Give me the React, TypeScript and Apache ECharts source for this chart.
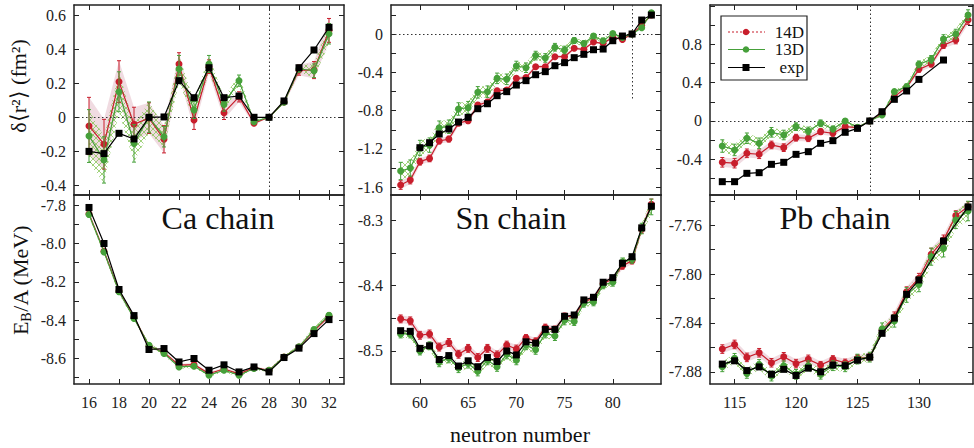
import React, { useEffect, useRef } from 'react';
import * as echarts from 'echarts';

// ---------------- Ca chain ----------------
const caN = [16, 17, 18, 19, 20, 21, 22, 23, 24, 25, 26, 27, 28, 29, 30, 31, 32];
const caRadExp = [-0.2, -0.213, -0.094, -0.127, 0.0, 0.002, 0.215, 0.115, 0.291, 0.115, 0.125, 0.0, 0.0, 0.096, 0.291, 0.395, 0.528];
const caRad14 = [-0.051, -0.158, 0.209, -0.041, -0.005, -0.129, 0.313, -0.016, 0.297, 0.027, 0.12, -0.035, 0.0, 0.09, 0.277, 0.277, 0.51];
const caRad14Err = [0.168, 0.146, 0.123, 0.1, 0.09, 0.08, 0.066, 0.055, 0.04, 0.04, 0.03, 0.012, 0.0, 0.01, 0.03, 0.05, 0.07];
const caRad13 = [-0.11, -0.25, 0.15, -0.153, 0.0, -0.114, 0.283, 0.043, 0.313, 0.076, 0.215, -0.026, 0.0, 0.088, 0.285, 0.273, 0.49];
const caRad13Err = [0.155, 0.136, 0.117, 0.11, 0.09, 0.06, 0.08, 0.05, 0.05, 0.04, 0.033, 0.012, 0.0, 0.01, 0.02, 0.04, 0.06];
const caBeExp = [-7.812, -8.0, -8.24, -8.376, -8.553, -8.548, -8.618, -8.6, -8.661, -8.633, -8.67, -8.644, -8.67, -8.595, -8.546, -8.47, -8.397];
const caBe14 = [-7.845, -8.04, -8.248, -8.385, -8.535, -8.568, -8.635, -8.632, -8.678, -8.655, -8.68, -8.648, -8.662, -8.592, -8.54, -8.455, -8.38];
const caBe14Err = [0.01, 0.01, 0.01, 0.01, 0.008, 0.008, 0.008, 0.008, 0.008, 0.008, 0.008, 0.008, 0.006, 0.006, 0.008, 0.01, 0.01];
const caBe13 = [-7.849, -8.044, -8.252, -8.391, -8.531, -8.574, -8.644, -8.64, -8.687, -8.661, -8.687, -8.652, -8.662, -8.592, -8.539, -8.449, -8.374];
const caBe13Err = [0.012, 0.012, 0.012, 0.01, 0.01, 0.01, 0.01, 0.01, 0.01, 0.01, 0.01, 0.008, 0.008, 0.008, 0.01, 0.012, 0.012];

// ---------------- Sn chain ----------------
const snN = [58, 59, 60, 61, 62, 63, 64, 65, 66, 67, 68, 69, 70, 71, 72, 73, 74, 75, 76, 77, 78, 79, 80, 81, 82, 83, 84];
const snRadExpN = [60, 61, 62, 63, 64, 65, 66, 67, 68, 69, 70, 71, 72, 73, 74, 75, 76, 77, 78, 79, 80, 81, 82, 83, 84];
const snRadExp = [-1.187, -1.135, -1.044, -0.992, -0.919, -0.87, -0.78, -0.728, -0.644, -0.602, -0.533, -0.487, -0.425, -0.393, -0.331, -0.299, -0.247, -0.212, -0.164, -0.157, -0.07, -0.021, 0.0, 0.146, 0.198];
const snRad14 = [-1.577, -1.525, -1.333, -1.299, -1.117, -1.097, -0.93, -0.905, -0.742, -0.71, -0.592, -0.585, -0.463, -0.455, -0.341, -0.341, -0.237, -0.237, -0.149, -0.16, -0.084, -0.097, -0.035, -0.056, 0.0, 0.09, 0.2];
const snRad14Err = [0.045, 0.04, 0.035, 0.035, 0.03, 0.03, 0.03, 0.03, 0.028, 0.028, 0.025, 0.025, 0.022, 0.022, 0.02, 0.02, 0.018, 0.018, 0.015, 0.015, 0.012, 0.012, 0.01, 0.008, 0.0, 0.01, 0.015];
const snRad13 = [-1.43, -1.4, -1.19, -1.16, -0.978, -0.968, -0.783, -0.769, -0.609, -0.602, -0.463, -0.473, -0.334, -0.352, -0.225, -0.25, -0.138, -0.167, -0.068, -0.1, -0.021, -0.07, 0.004, -0.035, 0.0, 0.066, 0.222];
const snRad13Err = [0.09, 0.085, 0.08, 0.075, 0.07, 0.07, 0.065, 0.065, 0.06, 0.06, 0.055, 0.055, 0.05, 0.05, 0.045, 0.045, 0.04, 0.04, 0.03, 0.03, 0.025, 0.025, 0.015, 0.01, 0.0, 0.012, 0.02];
const snBeExp = [-8.469, -8.47, -8.496, -8.492, -8.513, -8.507, -8.523, -8.515, -8.524, -8.51, -8.516, -8.5, -8.506, -8.486, -8.488, -8.467, -8.467, -8.447, -8.445, -8.422, -8.418, -8.395, -8.388, -8.366, -8.356, -8.312, -8.279];
const snBe14 = [-8.451, -8.454, -8.476, -8.474, -8.494, -8.487, -8.505, -8.496, -8.51, -8.496, -8.506, -8.491, -8.497, -8.48, -8.485, -8.464, -8.467, -8.447, -8.447, -8.424, -8.42, -8.397, -8.39, -8.37, -8.362, -8.314, -8.276];
const snBe14Err = [0.006, 0.006, 0.006, 0.006, 0.006, 0.006, 0.006, 0.006, 0.006, 0.006, 0.006, 0.006, 0.006, 0.005, 0.005, 0.005, 0.005, 0.005, 0.005, 0.005, 0.005, 0.005, 0.005, 0.005, 0.005, 0.006, 0.008];
const snBe13 = [-8.474, -8.474, -8.5, -8.492, -8.517, -8.511, -8.526, -8.519, -8.531, -8.514, -8.524, -8.505, -8.514, -8.491, -8.498, -8.473, -8.477, -8.453, -8.455, -8.427, -8.425, -8.399, -8.395, -8.364, -8.36, -8.313, -8.28];
const snBe13Err = [0.006, 0.006, 0.006, 0.006, 0.007, 0.007, 0.007, 0.007, 0.007, 0.007, 0.007, 0.007, 0.007, 0.007, 0.007, 0.007, 0.007, 0.007, 0.006, 0.006, 0.006, 0.006, 0.006, 0.006, 0.006, 0.008, 0.012];

// ---------------- Pb chain ----------------
const pbN = [114, 115, 116, 117, 118, 119, 120, 121, 122, 123, 124, 125, 126, 127, 128, 129, 130, 131, 132, 133, 134];
const pbRadExpN = [114, 115, 116, 117, 118, 119, 120, 121, 122, 123, 124, 125, 126, 127, 128, 129, 130, 132];
const pbRadExp = [-0.633, -0.633, -0.546, -0.539, -0.452, -0.431, -0.348, -0.32, -0.233, -0.205, -0.118, -0.077, 0.0, 0.097, 0.226, 0.313, 0.434, 0.636];
const pbRad14 = [-0.431, -0.44, -0.337, -0.347, -0.25, -0.278, -0.174, -0.18, -0.111, -0.128, -0.059, -0.07, 0.0, 0.08, 0.254, 0.351, 0.539, 0.594, 0.792, 0.845, 1.053];
const pbRad14Err = [0.05, 0.05, 0.045, 0.045, 0.04, 0.04, 0.035, 0.035, 0.03, 0.03, 0.02, 0.015, 0.0, 0.01, 0.02, 0.025, 0.03, 0.03, 0.035, 0.04, 0.045];
const pbRad13 = [-0.261, -0.302, -0.18, -0.233, -0.118, -0.146, -0.059, -0.104, -0.024, -0.083, 0.0, -0.065, 0.0, 0.063, 0.306, 0.358, 0.591, 0.643, 0.855, 0.907, 1.105];
const pbRad13Err = [0.065, 0.06, 0.055, 0.055, 0.05, 0.05, 0.04, 0.04, 0.035, 0.03, 0.025, 0.02, 0.0, 0.015, 0.025, 0.03, 0.035, 0.04, 0.045, 0.05, 0.055];
const pbBeExpN = [114, 115, 116, 117, 118, 119, 120, 121, 122, 123, 124, 125, 126, 127, 128, 129, 130, 132, 134];
const pbBeExp = [-7.8737, -7.871, -7.879, -7.876, -7.882, -7.878, -7.883, -7.877, -7.88, -7.8745, -7.875, -7.8705, -7.868, -7.8485, -7.836, -7.8166, -7.8048, -7.7729, -7.745];
const pbBe14 = [-7.8614, -7.8576, -7.8682, -7.8644, -7.8726, -7.8677, -7.8733, -7.8698, -7.8745, -7.8698, -7.8726, -7.869, -7.868, -7.8458, -7.835, -7.8144, -7.8034, -7.7838, -7.772, -7.7521, -7.7448];
const pbBe14Err = [0.0035, 0.0035, 0.0035, 0.0035, 0.0035, 0.0035, 0.0035, 0.0035, 0.003, 0.003, 0.003, 0.003, 0.003, 0.003, 0.004, 0.004, 0.004, 0.005, 0.004, 0.004, 0.004];
const pbBe13 = [-7.8759, -7.869, -7.8813, -7.874, -7.8835, -7.8751, -7.8821, -7.8751, -7.882, -7.875, -7.8759, -7.8696, -7.868, -7.845, -7.8384, -7.8171, -7.8084, -7.7857, -7.7789, -7.7557, -7.7483];
const pbBe13Err = [0.004, 0.004, 0.004, 0.004, 0.004, 0.004, 0.004, 0.004, 0.004, 0.004, 0.004, 0.004, 0.004, 0.005, 0.005, 0.006, 0.006, 0.007, 0.007, 0.007, 0.008];

// ---------------- ticks / labels ----------------
const caXTicks = [16, 18, 20, 22, 24, 26, 28, 30, 32];
const snXTicks = [60, 65, 70, 75, 80];
const pbXTicks = [115, 120, 125, 130];
const caRadYLabels = [-0.4, -0.2, 0, 0.2, 0.4, 0.6];
const caRadYTicks = [-0.4, -0.2, 0, 0.2, 0.4, 0.6];
const caBeYLabels = [-8.6, -8.4, -8.2, -8.0, -7.8];
const caBeYTicks = [-8.7, -8.6, -8.5, -8.4, -8.3, -8.2, -8.1, -8.0, -7.9, -7.8];
const snRadYLabels = [-1.6, -1.2, -0.8, -0.4, 0];
const snRadYTicks = [-1.6, -1.4, -1.2, -1.0, -0.8, -0.6, -0.4, -0.2, 0, 0.2];
const snBeYLabels = [-8.5, -8.4, -8.3];
const snBeYTicks = [-8.5, -8.45, -8.4, -8.35, -8.3];
const pbRadYLabels = [-0.4, 0, 0.4, 0.8];
const pbRadYTicks = [-0.6, -0.4, -0.2, 0, 0.2, 0.4, 0.6, 0.8, 1.0, 1.2];
const pbBeYLabels = [-7.88, -7.84, -7.8, -7.76];
const pbBeYTicks = [-7.88, -7.86, -7.84, -7.82, -7.8, -7.78, -7.76, -7.74];

const chainNames = ['Ca chain', 'Sn chain', 'Pb chain'];
const legendNames = ['14D', '13D', 'exp'];

const RED = '#c81e2c';
const GREEN = '#46a03a';
const AXIS = '#222';
const FONT = 'Liberation Serif';

const fmtRad = (v: number) => (Math.abs(v) < 1e-9 ? '0' : String(Math.round(v * 10) / 10));
const fmt1 = (v: number) => v.toFixed(1);
const fmt2 = (v: number) => v.toFixed(2);
const fmtInt = (v: number) => String(Math.round(v));

export default function App() {
  const ref = useRef<HTMLDivElement>(null);

  useEffect(() => {
    if (!ref.current) return;
    const chart = echarts.init(ref.current, null, { renderer: 'svg' });

    // hatch pattern for the 13D band
    const cv = document.createElement('canvas');
    cv.width = 6;
    cv.height = 6;
    const ctx = cv.getContext('2d');
    if (ctx) {
      ctx.strokeStyle = 'rgba(130,195,80,0.75)';
      ctx.lineWidth = 1;
      ctx.beginPath();
      ctx.moveTo(0, 0); ctx.lineTo(6, 6);
      ctx.moveTo(6, 0); ctx.lineTo(0, 6);
      ctx.stroke();
    }
    const greenFill: any = { image: cv, repeat: 'repeat' };
    const redFill = 'rgba(205,135,155,0.3)';

    const panels = [
      { grid: { left: 74, top: 5, width: 270, height: 190 }, xMin: 15, xMax: 33, xTicks: caXTicks, bottom: false,
        yMin: -0.456, yMax: 0.659, yTicks: caRadYTicks, yLabels: caRadYLabels, fmt: fmtRad,
        N: caN, d14: caRad14, e14: caRad14Err, d13: caRad13, e13: caRad13Err, expN: caN, exp: caRadExp,
        mark: [{ yAxis: 0 }, { xAxis: 28 }] },
      { grid: { left: 74, top: 195, width: 270, height: 189 }, xMin: 15, xMax: 33, xTicks: caXTicks, bottom: true,
        yMin: -8.733, yMax: -7.747, yTicks: caBeYTicks, yLabels: caBeYLabels, fmt: fmt1,
        N: caN, d14: caBe14, e14: caBe14Err, d13: caBe13, e13: caBe13Err, expN: caN, exp: caBeExp, mark: null },
      { grid: { left: 391, top: 5, width: 270, height: 190 }, xMin: 57, xMax: 85, xTicks: snXTicks, bottom: false,
        yMin: -1.681, yMax: 0.303, yTicks: snRadYTicks, yLabels: snRadYLabels, fmt: fmtRad,
        N: snN, d14: snRad14, e14: snRad14Err, d13: snRad13, e13: snRad13Err, expN: snRadExpN, exp: snRadExp,
        mark: [{ yAxis: 0 }, [{ coord: [82, 0.303] }, { coord: [82, -0.69] }]] },
      { grid: { left: 391, top: 195, width: 270, height: 189 }, xMin: 57, xMax: 85, xTicks: snXTicks, bottom: true,
        yMin: -8.5504, yMax: -8.2618, yTicks: snBeYTicks, yLabels: snBeYLabels, fmt: fmt1,
        N: snN, d14: snBe14, e14: snBe14Err, d13: snBe13, e13: snBe13Err, expN: snN, exp: snBeExp, mark: null },
      { grid: { left: 710, top: 5, width: 263, height: 190 }, xMin: 113, xMax: 134.4, xTicks: pbXTicks, bottom: false,
        yMin: -0.772, yMax: 1.21, yTicks: pbRadYTicks, yLabels: pbRadYLabels, fmt: fmtRad,
        N: pbN, d14: pbRad14, e14: pbRad14Err, d13: pbRad13, e13: pbRad13Err, expN: pbRadExpN, exp: pbRadExp,
        mark: [{ yAxis: 0 }, { xAxis: 126 }] },
      { grid: { left: 710, top: 195, width: 263, height: 189 }, xMin: 113, xMax: 134.4, xTicks: pbXTicks, bottom: true,
        yMin: -7.89, yMax: -7.7352, yTicks: pbBeYTicks, yLabels: pbBeYLabels, fmt: fmt2,
        N: pbN, d14: pbBe14, e14: pbBe14Err, d13: pbBe13, e13: pbBe13Err, expN: pbBeExpN, exp: pbBeExp, mark: null },
    ];

    const lineStyle = { color: AXIS, width: 1.5 };
    const labelBase = { fontFamily: FONT, fontSize: 16, color: '#222' };

    const grid: any[] = [];
    const xAxis: any[] = [];
    const yAxis: any[] = [];
    const series: any[] = [];

    const bandSeries = (g: number, N: number[], d: number[], e: number[], fill: any) => ({
      type: 'custom', xAxisIndex: 2 * g, yAxisIndex: 2 * g, z: 1, silent: true,
      data: N.map((x, i) => [x, d[i]]),
      renderItem: (params: any, api: any) => {
        if (params.dataIndex !== 0) return null;
        const upper = N.map((x, i) => api.coord([x, d[i] + e[i]]));
        const lower = N.map((x, i) => api.coord([x, d[i] - e[i]])).reverse();
        return { type: 'polygon', shape: { points: upper.concat(lower) }, style: { fill, stroke: null } };
      },
    });

    const errSeries = (g: number, N: number[], d: number[], e: number[], color: string, z: number) => ({
      type: 'custom', xAxisIndex: 2 * g, yAxisIndex: 2 * g, z, silent: true,
      data: N.map((x, i) => [x, d[i], e[i]]),
      renderItem: (params: any, api: any) => {
        const x = api.value(0), y = api.value(1), er = api.value(2);
        if (!er) return null;
        const hi = api.coord([x, y + er]);
        const lo = api.coord([x, y - er]);
        const w = 2;
        const st = { stroke: color, lineWidth: 1 };
        return {
          type: 'group',
          children: [
            { type: 'line', shape: { x1: hi[0], y1: hi[1], x2: lo[0], y2: lo[1] }, style: st },
            { type: 'line', shape: { x1: hi[0] - w, y1: hi[1], x2: hi[0] + w, y2: hi[1] }, style: st },
            { type: 'line', shape: { x1: lo[0] - w, y1: lo[1], x2: lo[0] + w, y2: lo[1] }, style: st },
          ],
        };
      },
    });

    panels.forEach((p, g) => {
      grid.push({ ...p.grid, containLabel: false });
      const xFmt = (v: number) => fmtInt(v);
      xAxis.push({
        type: 'value', gridIndex: g, min: p.xMin, max: p.xMax, position: 'bottom',
        axisLine: { show: true, onZero: false, lineStyle },
        axisTick: { show: true, inside: true, length: 5, customValues: p.xTicks, lineStyle: { color: AXIS, width: 1 } },
        axisLabel: { show: p.bottom, customValues: p.xTicks, margin: 10, formatter: xFmt, ...labelBase },
        splitLine: { show: false },
      });
      xAxis.push({
        type: 'value', gridIndex: g, min: p.xMin, max: p.xMax, position: 'top',
        axisLine: { show: true, onZero: false, lineStyle },
        axisTick: { show: true, inside: true, length: 5, customValues: p.xTicks, lineStyle: { color: AXIS, width: 1 } },
        axisLabel: { show: false },
        splitLine: { show: false },
      });
      yAxis.push({
        type: 'value', gridIndex: g, min: p.yMin, max: p.yMax, position: 'left',
        axisLine: { show: true, onZero: false, lineStyle },
        axisTick: { show: true, inside: true, length: 5, customValues: p.yTicks, lineStyle: { color: AXIS, width: 1 } },
        axisLabel: { show: true, customValues: p.yLabels, margin: 8, formatter: p.fmt, ...labelBase },
        splitLine: { show: false },
      });
      yAxis.push({
        type: 'value', gridIndex: g, min: p.yMin, max: p.yMax, position: 'right',
        axisLine: { show: true, onZero: false, lineStyle },
        axisTick: { show: true, inside: true, length: 5, customValues: p.yTicks, lineStyle: { color: AXIS, width: 1 } },
        axisLabel: { show: false },
        splitLine: { show: false },
      });

      series.push(bandSeries(g, p.N, p.d14, p.e14, redFill));
      series.push(bandSeries(g, p.N, p.d13, p.e13, greenFill));
      series.push(errSeries(g, p.N, p.d14, p.e14, RED, 2));
      series.push({
        type: 'line', name: legendNames[0], xAxisIndex: 2 * g, yAxisIndex: 2 * g, z: 3,
        data: p.N.map((x, i) => [x, p.d14[i]]),
        symbol: 'circle', symbolSize: 7, showSymbol: true,
        lineStyle: { color: RED, width: 1.2 }, itemStyle: { color: RED },
      });
      series.push(errSeries(g, p.N, p.d13, p.e13, GREEN, 4));
      series.push({
        type: 'line', name: legendNames[1], xAxisIndex: 2 * g, yAxisIndex: 2 * g, z: 5,
        data: p.N.map((x, i) => [x, p.d13[i]]),
        symbol: 'circle', symbolSize: 7, showSymbol: true,
        lineStyle: { color: GREEN, width: 1.2 }, itemStyle: { color: GREEN },
      });
      const expSeries: any = {
        type: 'line', name: legendNames[2], xAxisIndex: 2 * g, yAxisIndex: 2 * g, z: 6,
        data: p.expN.map((x, i) => [x, p.exp[i]]),
        symbol: 'rect', symbolSize: 7, showSymbol: true,
        lineStyle: { color: '#000', width: 1.2 }, itemStyle: { color: '#000' },
      };
      if (p.mark) {
        expSeries.markLine = {
          silent: true, symbol: ['none', 'none'], label: { show: false },
          lineStyle: { type: [1.5, 2.5], color: '#333', width: 1 },
          data: p.mark,
        };
      }
      series.push(expSeries);
    });

    const graphic: any[] = [
      // y titles
      { type: 'text', x: 18, y: 86, rotation: Math.PI / 2, z: 50,
        style: { text: 'δ⟨r²⟩ (fm²)', fontFamily: FONT, fontSize: 22, fill: '#111', align: 'center', verticalAlign: 'middle' } },
      { type: 'text', x: 20, y: 280, rotation: Math.PI / 2, z: 50,
        style: {
          text: '{a|E}{b|B}{a|/A (MeV)}', fill: '#111', align: 'center', verticalAlign: 'middle',
          rich: {
            a: { fontFamily: FONT, fontSize: 22, lineHeight: 26, verticalAlign: 'middle' },
            b: { fontFamily: FONT, fontSize: 14, lineHeight: 26, verticalAlign: 'bottom' },
          },
        } },
      { type: 'text', x: 520, y: 434, z: 50,
        style: { text: 'neutron number', fontFamily: FONT, fontSize: 22, fill: '#111', align: 'center', verticalAlign: 'middle' } },
      { type: 'text', x: 218, y: 218, z: 50,
        style: { text: chainNames[0], fontFamily: FONT, fontSize: 32, fill: '#111', align: 'center', verticalAlign: 'middle' } },
      { type: 'text', x: 511, y: 218, z: 50,
        style: { text: chainNames[1], fontFamily: FONT, fontSize: 32, fill: '#111', align: 'center', verticalAlign: 'middle' } },
      { type: 'text', x: 835, y: 218, z: 50,
        style: { text: chainNames[2], fontFamily: FONT, fontSize: 32, fill: '#111', align: 'center', verticalAlign: 'middle' } },
      // legend
      { type: 'rect', z: 40, shape: { x: 721, y: 16, width: 86, height: 64 }, style: { fill: '#fff', stroke: '#222', lineWidth: 1.2 } },
      { type: 'line', z: 41, shape: { x1: 728, y1: 32, x2: 765, y2: 32 }, style: { stroke: RED, lineWidth: 1.2, lineDash: [2, 2] } },
      { type: 'circle', z: 42, shape: { cx: 746, cy: 32, r: 3.3 }, style: { fill: RED } },
      { type: 'text', z: 42, x: 804, y: 32, style: { text: legendNames[0], fontFamily: FONT, fontSize: 17, fill: '#111', align: 'right', verticalAlign: 'middle' } },
      { type: 'line', z: 41, shape: { x1: 728, y1: 49.5, x2: 765, y2: 49.5 }, style: { stroke: GREEN, lineWidth: 1.2 } },
      { type: 'circle', z: 42, shape: { cx: 746, cy: 49.5, r: 3.3 }, style: { fill: GREEN } },
      { type: 'text', z: 42, x: 804, y: 49.5, style: { text: legendNames[1], fontFamily: FONT, fontSize: 17, fill: '#111', align: 'right', verticalAlign: 'middle' } },
      { type: 'line', z: 41, shape: { x1: 728, y1: 67.5, x2: 765, y2: 67.5 }, style: { stroke: '#000', lineWidth: 1.2 } },
      { type: 'rect', z: 42, shape: { x: 742.5, y: 64, width: 7, height: 7 }, style: { fill: '#000' } },
      { type: 'text', z: 42, x: 804, y: 67.5, style: { text: legendNames[2], fontFamily: FONT, fontSize: 17, fill: '#111', align: 'right', verticalAlign: 'middle' } },
    ];

    chart.setOption({
      animation: false,
      backgroundColor: '#fff',
      grid, xAxis, yAxis, series, graphic,
    });

    return () => chart.dispose();
  }, []);

  return <div ref={ref} style={{ position: 'absolute', left: 0, top: 0, width: 974, height: 448 }} />;
}
